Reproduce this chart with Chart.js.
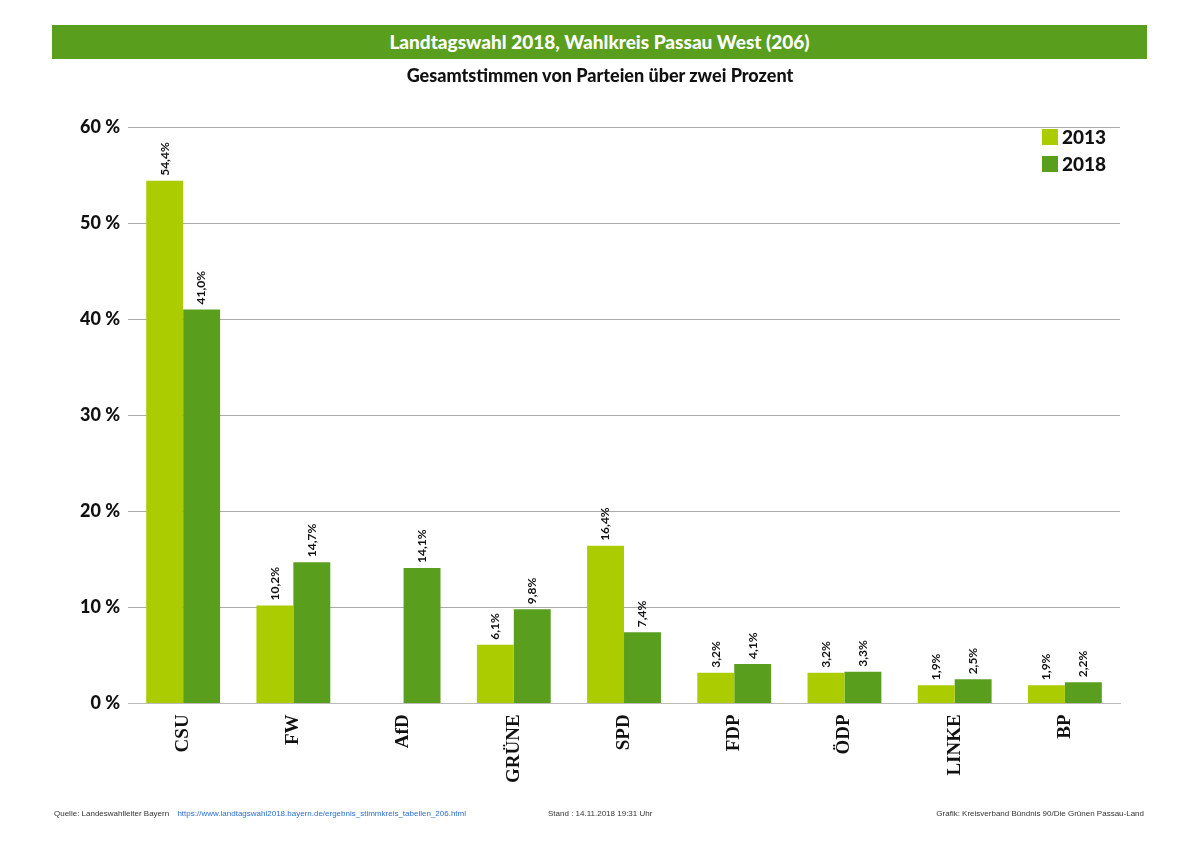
<!DOCTYPE html>
<html>
<head>
<meta charset="utf-8">
<script src="https://cdn.jsdelivr.net/npm/chart.js@4"></script>
<style>
  body{margin:0;width:1200px;height:848px;background:#fff;font-family:Lato,sans-serif;position:relative;overflow:hidden}
  #banner{position:absolute;left:52px;top:25px;width:1095px;height:34px;background:#5a9e1e;color:#fff;font-weight:900;font-size:19px;text-align:center;line-height:34px}
  #sub{position:absolute;left:0;top:64px;width:1200px;text-align:center;font-weight:900;font-size:18px;color:#111}
  canvas{position:absolute;left:0;top:0}
  .foot{position:absolute;top:809px;font-size:8px;color:#333;font-family:"Liberation Sans Narrow","Liberation Sans",sans-serif}
  .foot a{color:#2a6fd0;text-decoration:none;margin-left:6px}
</style>
</head>
<body>
<canvas id="c" width="1200" height="848"></canvas>
<div id="banner">Landtagswahl 2018, Wahlkreis Passau West (206)</div>
<div id="sub">Gesamtstimmen von Parteien über zwei Prozent</div>
<div class="foot" style="left:54px">Quelle: Landeswahlleiter Bayern <a>https://www.landtagswahl2018.bayern.de/ergebnis_stimmkreis_tabellen_206.html</a></div>
<div class="foot" style="left:548px">Stand : 14.11.2018 19:31 Uhr</div>
<div class="foot" style="right:56px">Grafik: Kreisverband Bündnis 90/Die Grünen Passau-Land</div>
<script>
const parties = ['CSU','FW','AfD','GRÜNE','SPD','FDP','ÖDP','LINKE','BP'];
const votes2013 = [54.4, 10.2, null, 6.1, 16.4, 3.2, 3.2, 1.9, 1.9];
const votes2018 = [41.0, 14.7, 14.1, 9.8, 7.4, 4.1, 3.3, 2.5, 2.2];
const yTicks = [0, 10, 20, 30, 40, 50, 60];
const light = '#aacc00', dark = '#5a9e1e';

const valueLabels = {
  id:'valueLabels',
  afterDatasetsDraw(chart){
    const ctx = chart.ctx;
    ctx.save();
    ctx.font = 'bold 12px Lato';
    ctx.fillStyle = '#111';
    ctx.textAlign = 'left';
    ctx.textBaseline = 'middle';
    chart.data.datasets.forEach((ds, i) => {
      chart.getDatasetMeta(i).data.forEach((bar, j) => {
        if (ds.data[j] == null) return;
        ctx.save();
        ctx.translate(bar.x, bar.y - 5);
        ctx.rotate(-Math.PI/2);
        ctx.fillText(ds.data[j].toFixed(1).replace('.', ',') + '%', 0, 0);
        ctx.restore();
      });
    });
    ctx.restore();
  }
};

const cornerLegend = {
  id:'cornerLegend',
  afterDraw(chart){
    const ctx = chart.ctx, a = chart.chartArea;
    ctx.save();
    ctx.font = '900 19px Lato';
    ctx.textBaseline = 'middle';
    chart.data.datasets.forEach((ds, i) => {
      const y = 137 + i*27;
      ctx.fillStyle = ds.backgroundColor;
      ctx.fillRect(a.right - 78, y - 8, 16, 16);
      ctx.fillStyle = '#111';
      ctx.fillText(ds.label, a.right - 58, y + 1);
    });
    ctx.restore();
  }
};

new Chart(document.getElementById('c'), {
  type:'bar',
  data:{
    labels: parties,
    datasets:[
      {label:'2013', data:votes2013, backgroundColor:light},
      {label:'2018', data:votes2018, backgroundColor:dark}
    ]
  },
  options:{
    responsive:false,
    animation:false,
    layout:{padding:{top:127, left:72, right:80, bottom:62}},
    categoryPercentage:0.67,
    barPercentage:1,
    plugins:{legend:{display:false}, tooltip:{enabled:false}},
    scales:{
      x:{
        grid:{display:false},
        border:{color:'#bbb'},
        ticks:{color:'#111', font:{family:'Liberation Serif', weight:'bold', size:19}, maxRotation:90, minRotation:90}
      },
      y:{
        min:0, max:60,
        afterBuildTicks(ax){ ax.ticks = yTicks.map(v => ({value:v})); },
        border:{display:false},
        grid:{color:'#aaa', borderDash:[2,3], drawTicks:false},
        ticks:{color:'#111', padding:8, font:{family:'Lato', weight:'900', size:18}, callback:v => v + ' %'}
      }
    }
  },
  plugins:[valueLabels, cornerLegend]
});
</script>
</body>
</html>
